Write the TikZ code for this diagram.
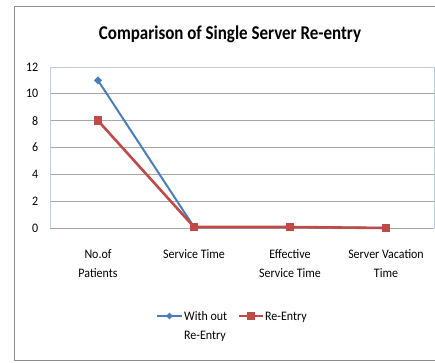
\documentclass[tikz,border=0pt]{standalone}
\usepackage{fontspec}
\setmainfont{Carlito}
\newfontfamily\titlefont[FakeStretch=0.87]{Carlito}
\newfontfamily\labfont[FakeStretch=0.92]{Carlito}
\usetikzlibrary{shapes.geometric}
\definecolor{blueS}{HTML}{4A7EBB}
\definecolor{redS}{HTML}{BE4B48}
\definecolor{gridc}{HTML}{A6A6A6}
\definecolor{plotb}{HTML}{B9CDE5}
\definecolor{framec}{HTML}{8C8C8C}
\begin{document}
\begin{tikzpicture}[x=1pt,y=-1pt,
  gridline/.style={draw=gridc,line width=0.9pt},
  ticklab/.style={anchor=east,font=\labfont\fontsize{13}{15}\selectfont,inner sep=0pt},
  catlab/.style={align=center,font=\labfont\fontsize{13}{19}\selectfont,inner sep=0pt,anchor=north},
  bluel/.style={draw=blueS,line width=2pt},
  redl/.style={draw=redS,line width=2.6pt},
  bluem/.style={diamond,fill=blueS,inner sep=0pt,minimum width=8pt,minimum height=8pt},
  redm/.style={rectangle,fill=redS,inner sep=0pt,minimum size=8.5pt},
  legtext/.style={align=left,font=\labfont\fontsize{13}{19}\selectfont,inner sep=0pt}]
\useasboundingbox (0,0) rectangle (435,362);
\fill[white] (0,0) rectangle (435,362);
% outer frame
\draw[framec,line width=1pt] (440,6) -- (14,6) -- (14,360) -- (440,360);
% title
\node[font=\titlefont\fontsize{19.5}{22}\selectfont\bfseries] (title) at (230,34) {Comparison of Single Server Re-entry};
% gridlines
\foreach \v in {2,4,...,10} {
  \draw[gridline] (50,{228-\v*13.42}) -- (434,{228-\v*13.42});
}
\foreach \v in {0,2,...,12} {
  \node[ticklab] (t\v) at (38.5,{228-\v*13.42}) {\v};
}
% plot border
\draw[plotb,line width=0.9pt] (50,228) -- (50,67) -- (434,67) -- (434,228);
\draw[gridline] (50,228) -- (434,228);
% categories
\node[catlab] (c1) at (98,245.2) {\strut No.of\\Patients};
\node[catlab] (c2) at (194,245.2) {\strut Service Time};
\node[catlab] (c3) at (290,245.2) {\strut Effective\\Service Time};
\node[catlab] (c4) at (386,245.2) {\strut Server Vacation\\Time};
% data points
\coordinate (b1) at (98,{228-11*13.42});
\coordinate (b2) at (194,227);
\coordinate (b3) at (290,227);
\coordinate (b4) at (386,228);
\coordinate (r1) at (98,{228-8*13.42});
\coordinate (r2) at (194,227);
\coordinate (r3) at (290,227);
\coordinate (r4) at (386,228);
\draw[bluel] (b1) -- (b2) -- (b3) -- (b4);
\node[bluem] (bm1) at (b1) {};
\draw[redl] (r1) -- (r2) -- (r3) -- (r4);
\foreach \i in {1,...,4} { \node[redm] (rm\i) at (r\i) {}; }
% legend
\coordinate (lb1) at (157,316);
\coordinate (lb2) at (182,316);
\draw[bluel] (lb1) -- (lb2);
\node[bluem,minimum width=7pt,minimum height=7pt] (lbm) at (169.5,316) {};
\node[legtext,anchor=base west] (lbt) at (184,320.5) {With out};
\node[legtext,anchor=base west] (lbt2) at (184,339.5) {Re-Entry};
\coordinate (lr1) at (239,316);
\coordinate (lr2) at (263,316);
\draw[redl] (lr1) -- (lr2);
\node[redm] (lrm) at (251,316) {};
\node[legtext,anchor=base west] (lrt) at (265,320.5) {Re-Entry};
\end{tikzpicture}
\end{document}
